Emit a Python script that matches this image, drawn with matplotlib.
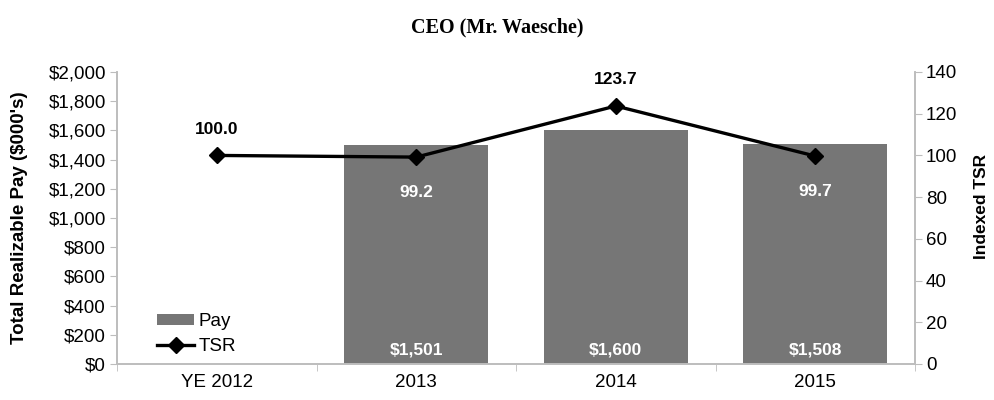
import numpy as np
import matplotlib.pyplot as plt
from matplotlib.ticker import FuncFormatter

plt.rcParams['font.family'] = ['Liberation Sans', 'DejaVu Sans']

# data
categories = ['YE 2012', '2013', '2014', '2015']
pay = [np.nan, 1501, 1600, 1508]
pay_labels = ['', '$1,501', '$1,600', '$1,508']
tsr = [100.0, 99.2, 123.7, 99.7]
tsr_labels = ['100.0', '99.2', '123.7', '99.7']

grey = '#bdbdbd'
bar_col = '#767676'
fs = 13.5

fig = plt.figure(figsize=(9.94, 4.0), dpi=100)
ax = fig.add_axes([117/994, 1-364/400, (915-117)/994, (364-72)/400])
ax2 = ax.twinx()

x = np.arange(len(categories))
ax.bar(x, pay, width=0.72, color=bar_col, label='Pay', zorder=2)
ax.set_xlim(-0.5, 3.5)
ax.set_ylim(0, 2000)
ax.set_yticks(np.arange(0, 2001, 200))
ax.yaxis.set_major_formatter(FuncFormatter(lambda v, p: '${:,.0f}'.format(v)))
ax.set_ylabel("Total Realizable Pay ($000's)", fontsize=13.5, fontweight='bold')
ax.yaxis.set_label_coords(-0.111, 0.5)

ax2.plot(x, tsr, color='black', lw=2.4, marker='D', ms=8, label='TSR', zorder=3)
ax2.set_ylim(0, 140)
ax2.set_yticks(np.arange(0, 141, 20))
ax2.set_ylabel('Indexed TSR', fontsize=12.5, fontweight='bold')
ax2.yaxis.set_label_coords(1.074, 0.54)

# x ticks at category boundaries, labels at centres
ax.set_xticks(x)
ax.set_xticklabels(categories, fontsize=fs)
ax.tick_params(axis='x', length=0, pad=7)
ax.set_xticks(np.arange(-0.5, 4, 1), minor=True)
ax.tick_params(axis='x', which='minor', length=5, color=grey, direction='out')

for a in (ax, ax2):
    a.spines['top'].set_visible(False)
    for s in ('left', 'right', 'bottom'):
        a.spines[s].set_color(grey)
        a.spines[s].set_linewidth(1.2)
    a.tick_params(axis='y', labelsize=fs, color=grey, length=5, pad=3)

# value labels
for i in range(len(categories)):
    if pay_labels[i]:
        ax.text(x[i], 95, pay_labels[i], ha='center', va='center', color='white',
                fontsize=12.5, fontweight='bold', zorder=4)
for i, t in enumerate(tsr):
    if i in (0, 2):
        ax2.text(x[i], t + 12.5, tsr_labels[i], ha='center', va='center', color='black',
                 fontsize=12.5, fontweight='bold')
    else:
        ax2.text(x[i], t - 17, tsr_labels[i], ha='center', va='center', color='white',
                 fontsize=12.5, fontweight='bold', zorder=4)

h1, l1 = ax.get_legend_handles_labels()
h2, l2 = ax2.get_legend_handles_labels()
ax2.legend(h1 + h2, l1 + l2, loc='lower left', bbox_to_anchor=(0.05, 0.03),
           borderpad=0, borderaxespad=0, frameon=False, fontsize=fs,
           handlelength=2.0, handleheight=0.55, handletextpad=0.2,
           labelspacing=0.45)

fig.text(0.5, 1-27/400, 'CEO (Mr. Waesche)', ha='center', va='center',
         family='Liberation Serif', fontweight='bold', fontsize=14.5)

fig.savefig('out.png', dpi=100)
